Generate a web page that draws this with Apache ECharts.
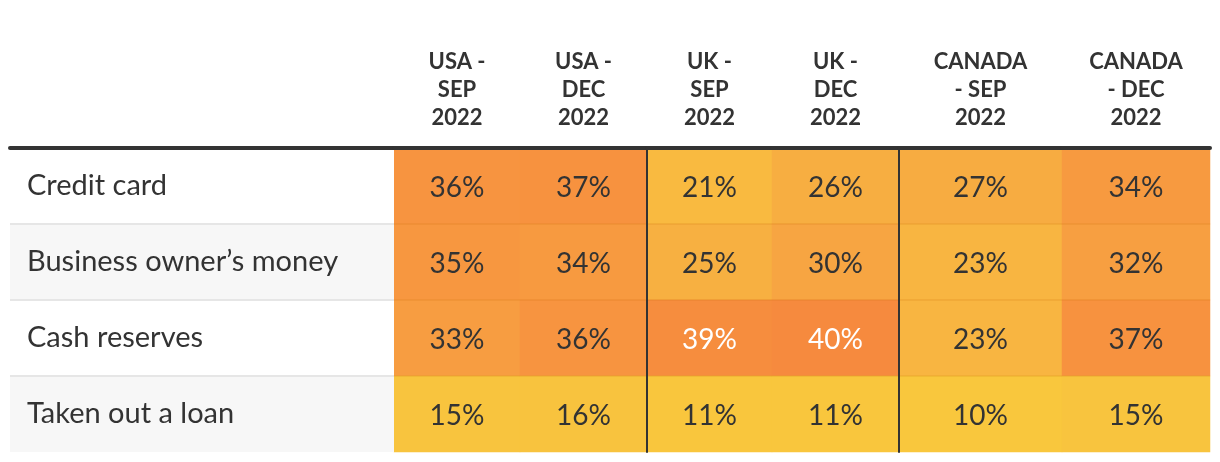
<!DOCTYPE html>
<html>
<head>
<meta charset="utf-8">
<script src="https://cdn.jsdelivr.net/npm/echarts@6/dist/echarts.min.js"></script>
<style>
  html, body { margin: 0; padding: 0; background: #ffffff; }
  #chart { width: 1220px; height: 462px; }
</style>
</head>
<body>
<div id="chart"></div>
<script>
// ---- data ----
const rowLabels = ['Credit card', 'Business owner\u2019s money', 'Cash reserves', 'Taken out a loan'];
const columnLabels = ['USA -\nSEP\n2022', 'USA -\nDEC\n2022', 'UK -\nSEP\n2022', 'UK -\nDEC\n2022', 'CANADA\n- SEP\n2022', 'CANADA\n- DEC\n2022'];
const usaSep2022 = [36, 35, 33, 15];
const usaDec2022 = [37, 34, 36, 16];
const ukSep2022 = [21, 25, 39, 11];
const ukDec2022 = [26, 30, 40, 11];
const canadaSep2022 = [27, 23, 23, 10];
const canadaDec2022 = [34, 32, 37, 15];
const columnValues = [usaSep2022, usaDec2022, ukSep2022, ukDec2022, canadaSep2022, canadaDec2022];

// ---- layout ----
const labelLeft = 10;
const colEdges = [394, 520, 647, 772, 899, 1062, 1210];
const gridTop = 148, gridBottom = 10;
const groupStart = { 2: true, 4: true };
const FONT = 'Lato, "Noto Sans", sans-serif';

const grids = [], xAxes = [], yAxes = [], series = [];

// label column
grids.push({ left: labelLeft, width: colEdges[0] - labelLeft, top: gridTop, bottom: gridBottom, containLabel: false });
xAxes.push({
  gridIndex: 0, type: 'category', data: [''], position: 'top', z: 6,
  axisLine: { show: true, lineStyle: { color: '#333333', width: 4 } },
  axisTick: { show: false }, axisLabel: { show: false }, splitLine: { show: false }
});
yAxes.push({
  gridIndex: 0, type: 'category', data: rowLabels, inverse: true, z: 5,
  axisLine: { show: false }, axisTick: { show: false },
  axisLabel: { inside: true, margin: 17, color: '#333333', fontSize: 29, fontFamily: FONT, padding: [4, 0, 0, 0] },
  splitArea: { show: true, areaStyle: { color: ['#ffffff', '#f7f7f7'] } },
  splitLine: { show: true, showMinLine: false, showMaxLine: false, lineStyle: { color: '#e6e6e6', width: 2 } }
});

columnLabels.forEach((lab, i) => {
  const gi = i + 1;
  grids.push({ left: colEdges[i], width: colEdges[i + 1] - colEdges[i], top: gridTop, bottom: gridBottom, containLabel: false });
  xAxes.push({
    gridIndex: gi, type: 'category', data: [lab], position: 'top', z: 6,
    axisLine: { show: true, lineStyle: { color: '#333333', width: 4 } },
    axisTick: { show: false },
    axisLabel: { margin: 16, color: '#333333', fontSize: 22, fontWeight: 'bold', lineHeight: 28, fontFamily: FONT, interval: 0 },
    splitLine: { show: false }
  });
  yAxes.push({
    gridIndex: gi, type: 'category', data: rowLabels, inverse: true, z: 5,
    axisLine: { show: !!groupStart[i], lineStyle: { color: '#333333', width: 2 } },
    axisTick: { show: false }, axisLabel: { show: false },
    splitLine: { show: true, showMinLine: false, showMaxLine: false, lineStyle: { color: 'rgba(190,100,0,0.13)', width: 2 } }
  });
  series.push({
    type: 'heatmap', xAxisIndex: gi, yAxisIndex: gi,
    data: columnValues[i].map((v, r) => ({
      value: [0, r, v],
      label: { color: v >= 38 ? '#ffffff' : '#333333' }
    })),
    label: {
      show: true, fontSize: 28, fontFamily: FONT, offset: [0, 2],
      formatter: p => p.value[2] + '%'
    },
    emphasis: { disabled: true }
  });
});

const chart = echarts.init(document.getElementById('chart'), null, { renderer: 'canvas' });
chart.setOption({
  backgroundColor: '#ffffff',
  animation: false,
  grid: grids,
  xAxis: xAxes,
  yAxis: yAxes,
  visualMap: {
    show: false, type: 'continuous', min: 10, max: 40,
    inRange: { color: ['#f9c73d', '#f8c43e', '#f9bd40', '#f7b041', '#f7a542', '#f79740', '#f68a3e'] }
  },
  series: series
});
</script>
</body>
</html>
